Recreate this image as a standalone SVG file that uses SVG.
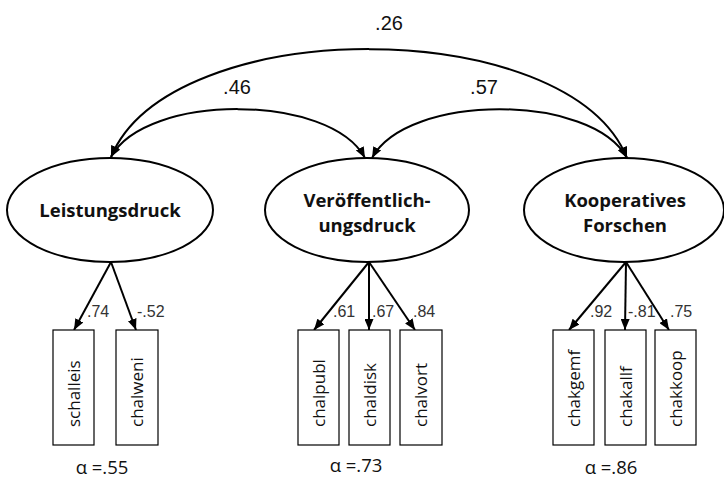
<svg xmlns="http://www.w3.org/2000/svg" width="724" height="482" viewBox="0 0 724 482">
<style>
.bg{fill:#ffffff}
.lat{fill:#ffffff;stroke:#000;stroke-width:2}
.lat-t{font-family:"Open Sans","Noto Sans",sans-serif;font-weight:bold;font-size:18.5px;fill:#111;text-anchor:middle}
.box{fill:#ffffff;stroke:#000;stroke-width:1.2}
.box-t{font-family:"Open Sans","Noto Sans",sans-serif;font-size:17px;fill:#111}
.con{fill:none;stroke:#000;stroke-width:2}
.cor-t{font-family:"Liberation Sans",Arial,sans-serif;font-size:20px;fill:#111;text-anchor:middle}
.load-t{font-family:"Liberation Sans",Arial,sans-serif;font-size:16px;fill:#333}
.alpha-t{font-family:"Open Sans","Noto Sans",sans-serif;font-size:18.5px;fill:#111;text-anchor:middle}
</style>
<defs>
<marker id="ah" markerUnits="userSpaceOnUse" markerWidth="12" markerHeight="9" refX="11" refY="4.5" orient="auto-start-reverse">
<path d="M0,0 L11,4.5 L0,9 z" fill="#000"/>
</marker>
</defs>
<rect class="bg" x="0" y="0" width="724" height="482"/>

<g id="connectors">
<path class="con" d="M111,157 C171,13 568,13 627,158" marker-start="url(#ah)" marker-end="url(#ah)"/>
<path class="con" d="M111,157 C146,93 330,93 365,158" marker-start="url(#ah)" marker-end="url(#ah)"/>
<path class="con" d="M372,158 C407,93 592,93 627,158" marker-start="url(#ah)" marker-end="url(#ah)"/>
<line class="con" x1="111" y1="262" x2="74" y2="330" marker-end="url(#ah)"/>
<line class="con" x1="111" y1="262" x2="136" y2="330" marker-end="url(#ah)"/>
<line class="con" x1="369" y1="262" x2="314" y2="330" marker-end="url(#ah)"/>
<line class="con" x1="369" y1="262" x2="369" y2="330" marker-end="url(#ah)"/>
<line class="con" x1="369" y1="262" x2="415" y2="330" marker-end="url(#ah)"/>
<line class="con" x1="626" y1="262" x2="569" y2="330" marker-end="url(#ah)"/>
<line class="con" x1="626" y1="262" x2="625" y2="330" marker-end="url(#ah)"/>
<line class="con" x1="626" y1="262" x2="669" y2="330" marker-end="url(#ah)"/>
<text class="cor-t" x="389" y="30">.26</text>
<text class="cor-t" x="237" y="94">.46</text>
<text class="cor-t" x="484" y="94">.57</text>
<text class="load-t" x="87" y="317">.74</text>
<text class="load-t" x="137" y="317">-.52</text>
<text class="load-t" x="333" y="317">.61</text>
<text class="load-t" x="372" y="317">.67</text>
<text class="load-t" x="413" y="317">.84</text>
<text class="load-t" x="590" y="317">.92</text>
<text class="load-t" x="628" y="317">-.81</text>
<text class="load-t" x="670" y="317">.75</text>
</g>

<g id="Leistungsdruck">
<ellipse class="lat" cx="110" cy="210" rx="103" ry="52"/>
<text class="lat-t" x="110" y="217">Leistungsdruck</text>
</g>
<g id="Veroeffentlichungsdruck">
<ellipse class="lat" cx="367" cy="210" rx="102" ry="52"/>
<text class="lat-t" x="367" y="207">Veröffentlich-</text>
<text class="lat-t" x="367" y="232">ungsdruck</text>
</g>
<g id="KooperativesForschen">
<ellipse class="lat" cx="624" cy="210" rx="100" ry="52"/>
<text class="lat-t" x="625" y="207">Kooperatives</text>
<text class="lat-t" x="625" y="232">Forschen</text>
</g>

<g id="schalleis"><rect class="box" x="53" y="330" width="41" height="115"/><text class="box-t" transform="translate(80,427) rotate(-90)">schalleis</text></g>
<g id="chalweni"><rect class="box" x="116" y="330" width="42" height="115"/><text class="box-t" transform="translate(143,427) rotate(-90)">chalweni</text></g>
<g id="chalpubl"><rect class="box" x="298" y="330" width="41" height="115"/><text class="box-t" transform="translate(325,427) rotate(-90)">chalpubl</text></g>
<g id="chaldisk"><rect class="box" x="349" y="330" width="41" height="115"/><text class="box-t" transform="translate(376,427) rotate(-90)">chaldisk</text></g>
<g id="chalvort"><rect class="box" x="400" y="330" width="42" height="115"/><text class="box-t" transform="translate(427,427) rotate(-90)">chalvort</text></g>
<g id="chakgemf"><rect class="box" x="553" y="330" width="41" height="115"/><text class="box-t" transform="translate(580,427) rotate(-90)">chakgemf</text></g>
<g id="chakallf"><rect class="box" x="605" y="330" width="41" height="115"/><text class="box-t" transform="translate(632,427) rotate(-90)">chakallf</text></g>
<g id="chakkoop"><rect class="box" x="655" y="330" width="41" height="115"/><text class="box-t" transform="translate(682,427) rotate(-90)">chakkoop</text></g>

<g id="alphas">
<text class="alpha-t" x="102" y="474">α =.55</text>
<text class="alpha-t" x="356" y="472">α =.73</text>
<text class="alpha-t" x="611" y="474">α =.86</text>
</g>
</svg>
